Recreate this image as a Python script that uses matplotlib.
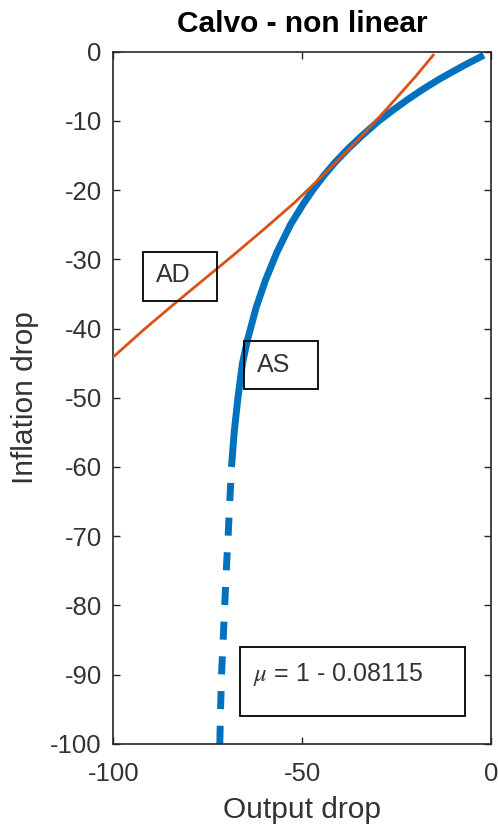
import matplotlib
matplotlib.use("Agg")
import matplotlib.pyplot as plt
from matplotlib.patches import Rectangle

plt.rcParams['font.family'] = ['Liberation Sans', 'DejaVu Sans']
plt.rcParams['mathtext.fontset'] = 'stix'
plt.rcParams['axes.unicode_minus'] = False

# Aggregate supply curve (solid part, then dashed continuation)
as_solid_x = [-1.9, -7.2, -13.8, -18.5, -22.3, -26.1, -29.7, -33.9, -37.8, -41.3,
              -44.4, -47.2, -49.7, -53.1, -56.7, -59.7, -62.2, -64.4, -65.8, -67.0,
              -68.0, -68.7]
as_solid_y = [-0.5, -2.0, -4.0, -5.6, -7.0, -8.5, -10.0, -12.0, -14.0, -16.0,
              -18.0, -20.0, -22.0, -25.0, -29.0, -33.0, -37.0, -41.5, -45.0, -50.0,
              -55.0, -60.0]
# dashed segment listed from the bottom edge upward
as_dash_x = [-71.8, -71.6, -71.3, -71.0, -70.5, -70.0, -69.6, -69.1, -68.7]
as_dash_y = [-100.0, -95.0, -89.4, -86.0, -80.0, -74.0, -70.0, -64.3, -60.0]

# Aggregate demand curve
ad_x = [-100.0, -92.0, -84.0, -76.0, -68.0, -60.0, -52.0, -44.0, -36.0, -28.0, -20.0, -15.3]
ad_y = [-44.1, -40.2, -36.5, -32.9, -29.3, -25.6, -21.8, -17.6, -13.2, -8.5, -3.6, -0.5]

x_ticks = [-100, -50, 0]
y_ticks = list(range(-100, 1, 10))

title = "Calvo - non linear"
x_label = "Output drop"
y_label = "Inflation drop"
mu_label = r"$\mu$ = 1 - 0.08115"

blue = "#0072BD"
orange = "#D95319"
axis_col = "#262626"
text_col = "#333333"

W, H = 498, 826
fig = plt.figure(figsize=(W / 100, H / 100), dpi=100)
fig.patch.set_facecolor("white")

left, right, top, bottom = 113.3, 491.0, 51.7, 743.8
ax = fig.add_axes([left / W, 1 - bottom / H, (right - left) / W, (bottom - top) / H])

ax.plot(ad_x, ad_y, color=orange, lw=2.0, zorder=3)
ax.plot(as_solid_x, as_solid_y, color=blue, lw=5.0, solid_capstyle='butt', zorder=2)
ax.plot(as_dash_x, as_dash_y, color=blue, lw=5.0, dashes=(2.6, 2.4),
        dash_capstyle='butt', zorder=2)

ax.set_xlim(-100, 0)
ax.set_ylim(-100, 0)
ax.set_xticks(x_ticks)
ax.set_yticks(y_ticks)
ax.tick_params(direction='in', length=5, width=1.0, colors=axis_col,
               top=True, right=True, labelsize=18.5, labelcolor=text_col)
ax.tick_params(axis='x', pad=13)
ax.tick_params(axis='y', pad=8.4)
for s in ax.spines.values():
    s.set_color(axis_col)
    s.set_linewidth(1.2)

cx = (left + right) / 2 / W
fig.text(cx, 1 - 31.7 / H, title, fontsize=21.5, fontweight='bold', color='black',
         ha='center', va='baseline')
fig.text(cx, 1 - 818.3 / H, x_label, fontsize=21.5, color=text_col,
         ha='center', va='baseline')
fig.text(33.0 / W, 1 - (top + bottom) / 2 / H, y_label, fontsize=21.5, color=text_col,
         rotation=90, rotation_mode='anchor', ha='center', va='baseline')


def box(x0, y0, x1, y1):
    fig.patches.append(Rectangle((x0 / W, 1 - y1 / H), (x1 - x0) / W, (y1 - y0) / H,
                                 transform=fig.transFigure, fill=False,
                                 edgecolor='black', lw=1.3, zorder=5))


box(143.3, 252.3, 216.7, 300.7)
fig.text(156.0 / W, 1 - 281.5 / H, "AD", fontsize=18, color=text_col, va='baseline')
box(244.3, 341.0, 318.3, 389.3)
fig.text(257.0 / W, 1 - 371.5 / H, "AS", fontsize=18, color=text_col, va='baseline')
box(240.0, 646.7, 465.0, 716.0)
fig.text(252.5 / W, 1 - 680.5 / H, mu_label, fontsize=18, color=text_col, va='baseline')

fig.savefig("out.png", dpi=100, facecolor="white")
